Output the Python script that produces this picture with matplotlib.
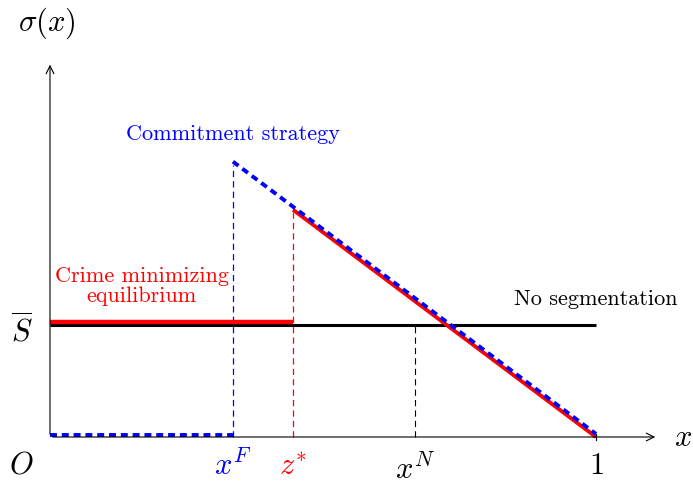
import matplotlib
matplotlib.use("Agg")
import matplotlib.pyplot as plt
import matplotlib.transforms as mtransforms
import numpy as np

plt.rcParams['mathtext.fontset'] = 'cm'
plt.rcParams['lines.scale_dashes'] = False

# Model parameters
x_F = 0.335          # commitment threshold
z_star = 0.445       # crime-minimizing cutoff
x_N = 0.668          # no-segmentation marker
S_bar = 0.205        # pooled level
slope = 0.75         # sigma(x) = slope * (1 - x) on the upper segment

# Curves
commit_x = [0.0, x_F]
commit_y = [0.0, 0.0]
commit_diag_x = [x_F, 1.0]
crime_x = [0.0, z_star]
crime_diag_x = [z_star, 1.0]
noseg_x = [0.0, 1.0]

def sigma(x):
    return slope * (1.0 - np.asarray(x))

fig = plt.figure(figsize=(6.93, 4.82), dpi=100)
ax = fig.add_axes([0, 0, 1, 1])
ax.set_xlim(-50 / 546, 643 / 546)
ax.set_ylim(-45 / 546, 437 / 546)
ax.axis('off')

up3 = mtransforms.offset_copy(ax.transData, fig=fig, x=0, y=2.2, units='points')
up2 = mtransforms.offset_copy(ax.transData, fig=fig, x=0, y=1.4, units='points')

# Axes with arrows
ax.annotate('', xy=(1.1136, 0), xytext=(0, 0),
            arrowprops=dict(arrowstyle='->', lw=0.8, color='black', mutation_scale=14))
ax.annotate('', xy=(0, 0.687), xytext=(0, 0),
            arrowprops=dict(arrowstyle='->', lw=0.8, color='black', mutation_scale=14))

# No segmentation
ax.plot(noseg_x, [S_bar, S_bar], color='black', lw=2.2, solid_capstyle='butt')

# Guide lines
ax.plot([x_F, x_F], [0, sigma(x_F)], color='blue', lw=0.9, dashes=(4.5, 3))
ax.plot([z_star, z_star], [0, sigma(z_star)], color='red', lw=0.9, dashes=(4.5, 3))
ax.plot([x_N, x_N], [0, S_bar], color='black', lw=0.8, dashes=(4.5, 3))

# Crime minimizing equilibrium
ax.plot(crime_x, [S_bar, S_bar], color='red', lw=3.2, solid_capstyle='butt', transform=up3)
ax.plot(crime_diag_x, sigma(crime_diag_x), color='red', lw=2.8, solid_capstyle='butt')

# Commitment strategy
ax.plot(commit_x, commit_y, color='blue', lw=2.8, dashes=(5, 3.5), transform=up2)
ax.plot(commit_diag_x, sigma(commit_diag_x), color='blue', lw=2.8, dashes=(5, 3.5), transform=up3)

# Tick at 1
ax.plot([1, 1], [-0.006, 0.006], color='black', lw=0.8)

# Labels
mfs = 22
ax.text(-0.058, 0.758, r'$\sigma(x)$', fontsize=mfs, ha='left', va='center')
ax.text(1.160, 0.0, r'$x$', fontsize=mfs, ha='center', va='center')
ax.text(-0.052, -0.052, r'$O$', fontsize=mfs, ha='center', va='center')
ax.text(-0.052, 0.195, r'$\overline{S}$', fontsize=mfs, ha='center', va='center')
ax.text(x_F, -0.052, r'$x^F$', fontsize=mfs, ha='center', va='center', color='blue')
ax.text(z_star, -0.052, r'$z^{*}$', fontsize=mfs, ha='center', va='center', color='red')
ax.text(x_N, -0.060, r'$x^N$', fontsize=mfs, ha='center', va='center', color='black')
ax.text(1.0, -0.052, r'$1$', fontsize=mfs, ha='center', va='center')

tfs = 16
ax.text(x_F, 0.555, 'Commitment strategy', fontsize=tfs, family='cmr10',
        ha='center', va='center', color='blue')
ax.text(0.168, 0.276, 'Crime minimizing\nequilibrium', fontsize=tfs, family='cmr10',
        ha='center', va='center', color='red', linespacing=1.05)
ax.text(1.0, 0.252, 'No segmentation', fontsize=tfs, family='cmr10',
        ha='center', va='center', color='black')

fig.savefig('out.png', dpi=100)
